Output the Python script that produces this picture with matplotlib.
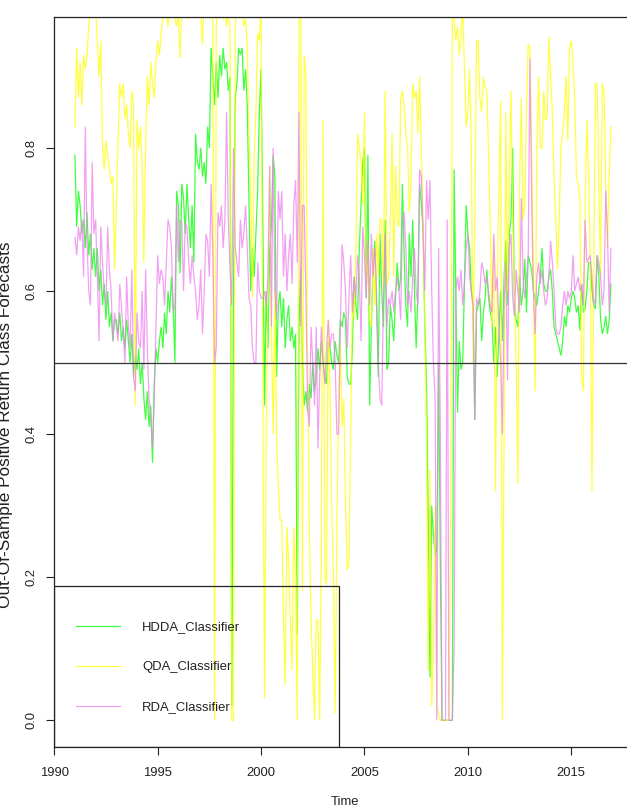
import numpy as np
import matplotlib
matplotlib.use("Agg")
import matplotlib.pyplot as plt
from matplotlib.patches import Rectangle
from matplotlib.lines import Line2D

plt.rcParams['font.family'] = ['Liberation Sans', 'DejaVu Sans']

start_year = 1991
freq = 12

hdda = [
    0.79, 0.69, 0.74, 0.72, 0.68, 0.70, 0.66, 0.71, 0.65, 0.68, 0.63, 0.66,   # 1991
    0.62, 0.66, 0.60, 0.63, 0.58, 0.61, 0.56, 0.60, 0.55, 0.57, 0.53, 0.56,   # 1992
    0.56, 0.54, 0.57, 0.53, 0.55, 0.52, 0.56, 0.53, 0.50, 0.54, 0.48, 0.51,   # 1993
    0.49, 0.52, 0.47, 0.50, 0.45, 0.42, 0.46, 0.41, 0.44, 0.36, 0.47, 0.52,   # 1994
    0.50, 0.53, 0.55, 0.52, 0.57, 0.54, 0.60, 0.57, 0.62, 0.58, 0.50, 0.74,   # 1995
    0.72, 0.625, 0.75, 0.73, 0.68, 0.75, 0.70, 0.66, 0.72, 0.64, 0.82, 0.78,  # 1996
    0.77, 0.80, 0.76, 0.78, 0.75, 0.83, 0.80, 0.94, 0.90, 0.86, 0.92, 0.87,   # 1997
    0.93, 0.90, 0.94, 0.91, 0.92, 0.88, 0.90, 0.02, 0.60, 0.87, 0.89, 0.94,   # 1998
    0.93, 0.94, 0.88, 0.91, 0.86, 0.72, 0.60, 0.66, 0.62, 0.68, 0.74, 0.85,   # 1999
    0.91, 0.70, 0.44, 0.60, 0.52, 0.66, 0.69, 0.79, 0.76, 0.48, 0.58, 0.60,   # 2000
    0.55, 0.59, 0.52, 0.56, 0.58, 0.53, 0.55, 0.52, 0.54, 0.12, 0.55, 0.63,   # 2001
    0.50, 0.44, 0.46, 0.43, 0.47, 0.45, 0.50, 0.46, 0.48, 0.52, 0.49, 0.53,   # 2002
    0.50, 0.48, 0.47, 0.53, 0.52, 0.50, 0.49, 0.53, 0.51, 0.50, 0.56, 0.55,   # 2003
    0.57, 0.56, 0.48, 0.47, 0.47, 0.52, 0.62, 0.58, 0.56, 0.66, 0.72, 0.78,   # 2004
    0.80, 0.59, 0.79, 0.44, 0.55, 0.64, 0.67, 0.58, 0.48, 0.68, 0.60, 0.55,   # 2005
    0.70, 0.49, 0.50, 0.58, 0.56, 0.53, 0.59, 0.64, 0.60, 0.62, 0.75, 0.65,   # 2006
    0.58, 0.55, 0.68, 0.62, 0.70, 0.60, 0.52, 0.60, 0.75, 0.72, 0.69, 0.55,   # 2007
    0.47, 0.28, 0.06, 0.30, 0.26, 0.23, 0.24, 0.50, 0.22, 0.00, 0.00, 0.00,   # 2008
    0.00, 0.00, 0.00, 0.00, 0.77, 0.60, 0.43, 0.53, 0.49, 0.50, 0.61, 0.72,   # 2009
    0.68, 0.66, 0.60, 0.58, 0.42, 0.57, 0.58, 0.59, 0.53, 0.57, 0.59, 0.63,   # 2010
    0.59, 0.57, 0.56, 0.50, 0.55, 0.48, 0.54, 0.60, 0.53, 0.62, 0.67, 0.58,   # 2011
    0.68, 0.70, 0.80, 0.58, 0.56, 0.55, 0.62, 0.58, 0.60, 0.645, 0.57, 0.65,  # 2012
    0.64, 0.63, 0.60, 0.59, 0.58, 0.60, 0.62, 0.66, 0.61, 0.60, 0.60, 0.62,   # 2013
    0.63, 0.60, 0.55, 0.54, 0.53, 0.52, 0.51, 0.53, 0.565, 0.55, 0.58, 0.57,  # 2014
    0.59, 0.60, 0.59, 0.57, 0.58, 0.545, 0.61, 0.57, 0.575, 0.60, 0.64, 0.64, # 2015
    0.60, 0.58, 0.575, 0.65, 0.62, 0.56, 0.54, 0.55, 0.565, 0.54, 0.56, 0.61, # 2016
]

qda = [
    0.83, 0.94, 0.87, 0.92, 0.86, 0.93, 0.91, 0.93, 0.97, 0.99, 1.00, 1.00,   # 1991
    1.00, 0.95, 0.90, 0.95, 0.80, 0.77, 0.81, 0.79, 0.77, 0.75, 0.76, 0.63,   # 1992
    0.72, 0.81, 0.89, 0.87, 0.89, 0.84, 0.86, 0.82, 0.80, 0.88, 0.86, 0.44,   # 1993
    0.84, 0.80, 0.83, 0.77, 0.64, 0.80, 0.90, 0.86, 0.92, 0.89, 0.87, 0.92,   # 1994
    0.95, 0.93, 0.96, 0.98, 1.00, 0.99, 0.97, 1.00, 1.00, 0.99, 0.98, 0.97,   # 1995
    0.99, 0.925, 1.00, 0.99, 1.00, 1.00, 0.98, 1.00, 1.00, 1.00, 0.99, 1.00,  # 1996
    1.00, 0.99, 0.945, 1.00, 1.00, 0.99, 1.00, 1.00, 0.98, 0.00, 0.97, 1.00,  # 1997
    0.99, 1.00, 0.98, 1.00, 0.97, 1.00, 0.96, 0.00, 0.00, 0.97, 1.00, 0.99,   # 1998
    0.99, 1.00, 0.97, 0.98, 0.94, 0.82, 0.74, 0.59, 0.79, 0.85, 0.96, 0.95,   # 1999
    1.00, 0.44, 0.03, 0.40, 0.60, 0.775, 0.55, 0.40, 0.60, 0.39, 0.33, 0.28,  # 2000
    0.28, 0.14, 0.05, 0.27, 0.22, 0.14, 0.07, 0.27, 0.20, 0.00, 1.00, 0.98,   # 2001
    0.18, 0.93, 0.90, 0.50, 0.27, 0.14, 0.07, 0.00, 0.14, 0.14, 0.00, 0.25,   # 2002
    0.84, 0.20, 0.19, 0.56, 0.46, 0.30, 0.20, 0.01, 0.27, 0.45, 0.53, 0.41,   # 2003
    0.45, 0.30, 0.21, 0.22, 0.40, 0.60, 0.56, 0.65, 0.82, 0.80, 0.78, 0.72,   # 2004
    0.85, 0.60, 0.66, 0.56, 0.55, 0.66, 0.58, 0.68, 0.62, 0.70, 0.70, 0.60,   # 2005
    0.88, 0.61, 0.62, 0.70, 0.82, 0.62, 0.775, 0.70, 0.69, 0.87, 0.88, 0.86,  # 2006
    0.82, 0.80, 0.71, 0.75, 0.89, 0.87, 0.88, 0.82, 0.90, 0.80, 0.70, 0.55,   # 2007
    0.40, 0.07, 0.35, 0.02, 0.10, 0.30, 0.02, 0.01, 0.00, 0.00, 0.00, 0.00,   # 2008
    0.00, 0.00, 0.30, 1.00, 0.98, 0.95, 0.97, 0.93, 0.96, 1.00, 0.91, 0.83,   # 2009
    0.85, 0.91, 0.80, 0.50, 0.70, 0.95, 0.95, 0.87, 0.85, 0.90, 0.885, 0.88,  # 2010
    0.79, 0.69, 0.55, 0.67, 0.32, 0.60, 0.75, 0.866, 0.00, 0.40, 0.85, 0.60,  # 2011
    0.75, 0.88, 0.70, 0.60, 0.50, 0.33, 0.75, 0.87, 0.70, 0.72, 0.85, 0.945,  # 2012
    0.94, 0.80, 0.62, 0.46, 0.80, 0.90, 0.80, 0.80, 0.88, 0.84, 0.84, 0.955,  # 2013
    0.90, 0.85, 0.76, 0.70, 0.63, 0.70, 0.80, 0.82, 0.85, 0.90, 0.81, 0.94,   # 2014
    0.95, 0.92, 0.87, 0.76, 0.75, 0.73, 0.48, 0.46, 0.72, 0.84, 0.77, 0.65,   # 2015
    0.32, 0.60, 0.89, 0.89, 0.75, 0.62, 0.89, 0.88, 0.75, 0.66, 0.76, 0.83,   # 2016
]

rda = [
    0.675, 0.65, 0.69, 0.67, 0.70, 0.62, 0.83, 0.67, 0.60, 0.58, 0.78, 0.68,  # 1991
    0.70, 0.62, 0.53, 0.69, 0.64, 0.60, 0.58, 0.69, 0.63, 0.60, 0.53, 0.57,   # 1992
    0.55, 0.53, 0.61, 0.58, 0.54, 0.50, 0.62, 0.55, 0.52, 0.63, 0.48, 0.46,   # 1993
    0.57, 0.53, 0.52, 0.60, 0.49, 0.63, 0.52, 0.45, 0.42, 0.38, 0.45, 0.55,   # 1994
    0.65, 0.61, 0.63, 0.62, 0.58, 0.64, 0.70, 0.69, 0.66, 0.57, 0.58, 0.72,   # 1995
    0.64, 0.70, 0.695, 0.60, 0.695, 0.69, 0.64, 0.61, 0.65, 0.62, 0.60, 0.56, # 1996
    0.58, 0.63, 0.54, 0.60, 0.68, 0.67, 0.62, 0.75, 0.65, 0.50, 0.52, 0.71,   # 1997
    0.69, 0.72, 0.66, 0.70, 0.85, 0.70, 0.63, 0.58, 0.80, 0.66, 0.64, 0.62,   # 1998
    0.70, 0.66, 0.68, 0.72, 0.66, 0.59, 0.58, 0.52, 0.50, 0.50, 0.64, 0.60,   # 1999
    0.59, 0.59, 0.60, 0.58, 0.62, 0.775, 0.55, 0.80, 0.60, 0.56, 0.74, 0.70,  # 2000
    0.74, 0.62, 0.68, 0.60, 0.65, 0.68, 0.61, 0.72, 0.755, 0.64, 0.85, 0.55,  # 2001
    0.72, 0.72, 0.60, 0.44, 0.41, 0.55, 0.50, 0.44, 0.55, 0.38, 0.48, 0.55,   # 2002
    0.50, 0.47, 0.52, 0.56, 0.52, 0.54, 0.54, 0.50, 0.40, 0.40, 0.55, 0.665,  # 2003
    0.64, 0.60, 0.52, 0.59, 0.65, 0.57, 0.62, 0.59, 0.65, 0.62, 0.53, 0.69,   # 2004
    0.65, 0.59, 0.67, 0.58, 0.68, 0.62, 0.66, 0.60, 0.50, 0.45, 0.44, 0.59,   # 2005
    0.68, 0.55, 0.59, 0.58, 0.60, 0.57, 0.60, 0.62, 0.60, 0.56, 0.70, 0.71,   # 2006
    0.66, 0.58, 0.60, 0.57, 0.62, 0.66, 0.60, 0.58, 0.77, 0.76, 0.68, 0.60,   # 2007
    0.755, 0.70, 0.755, 0.60, 0.50, 0.45, 0.00, 0.66, 0.40, 0.00, 0.00, 0.00, # 2008
    0.70, 0.00, 0.00, 0.00, 0.10, 0.60, 0.62, 0.60, 0.63, 0.58, 0.61, 0.66,   # 2009
    0.68, 0.62, 0.60, 0.58, 0.42, 0.59, 0.58, 0.60, 0.64, 0.63, 0.61, 0.62,   # 2010
    0.60, 0.58, 0.57, 0.68, 0.60, 0.62, 0.55, 0.50, 0.40, 0.58, 0.64, 0.475,  # 2011
    0.66, 0.68, 0.59, 0.565, 0.63, 0.60, 0.57, 0.73, 0.62, 0.59, 0.62, 0.65,  # 2012
    0.925, 0.73, 0.60, 0.54, 0.62, 0.64, 0.61, 0.63, 0.60, 0.58, 0.59, 0.62,  # 2013
    0.67, 0.64, 0.60, 0.55, 0.54, 0.54, 0.55, 0.58, 0.60, 0.58, 0.60, 0.59,   # 2014
    0.60, 0.65, 0.60, 0.61, 0.62, 0.60, 0.61, 0.58, 0.70, 0.64, 0.645, 0.65,  # 2015
    0.62, 0.58, 0.59, 0.65, 0.64, 0.62, 0.58, 0.60, 0.74, 0.68, 0.57, 0.66,   # 2016
]

series_names = ["HDDA_Classifier", "QDA_Classifier", "RDA_Classifier"]
series_colors = ["#00FF00", "#FFFF00", "#EE82EE"]
x_ticks = [1990, 1995, 2000, 2005, 2010, 2015]
y_ticks = [0.0, 0.2, 0.4, 0.6, 0.8]
threshold = 0.5

t = start_year + np.arange(len(hdda)) / freq

W, H = 627, 810
fig = plt.figure(figsize=(W / 100, H / 100), dpi=100)
ax_left, ax_right, ax_top, ax_bottom = 53.5, 632.3, 17, 747
ax = fig.add_axes([ax_left / W, 1 - ax_bottom / H, (ax_right - ax_left) / W, (ax_bottom - ax_top) / H])

for vals, col in zip([hdda, qda, rda], series_colors):
    ax.plot(t, vals, color=col, lw=0.9, alpha=0.75, solid_joinstyle='miter')

ax.axhline(threshold, color='#333333', lw=0.9)

ax.set_xlim(1989.963, 2017.95)
ax.set_ylim(-0.0373, 0.9831)
ax.set_xticks(x_ticks)
ax.set_xticklabels([str(v) for v in x_ticks])
ax.set_yticks(y_ticks)
ax.set_yticklabels([f"{v:.1f}" for v in y_ticks])
for s in ax.spines.values():
    s.set_linewidth(0.9)
    s.set_color('#222222')
ax.tick_params(axis='both', direction='out', length=5.8, width=0.8, color='#222222',
               labelsize=9.4, labelcolor='#222222')
ax.tick_params(axis='x', pad=8.5)
ax.tick_params(axis='y', pad=6.0, labelrotation=90)
for lbl in ax.get_yticklabels():
    lbl.set_va('center')

# legend box (R style, transparent)
leg_w = (339.3 - ax_left) / (ax_right - ax_left)
leg_h = (ax_bottom - 586) / (ax_bottom - ax_top)
ax.add_patch(Rectangle((0, 0), leg_w, leg_h, transform=ax.transAxes, fill=False,
                       edgecolor='#222222', lw=0.9, zorder=5))
handles = [Line2D([0], [0], color=c, lw=0.9, alpha=0.75) for c in series_colors]
leg = fig.legend(handles, series_names, loc='upper left',
                 bbox_to_anchor=(76 / W, 1 - 621 / H), frameon=False,
                 fontsize=9.4, handlelength=44 / 13.05, handletextpad=22 / 13.05,
                 labelspacing=2.15, borderpad=0, borderaxespad=0)
for txt in leg.get_texts():
    txt.set_color('#222222')

fig.text(345 / W, 1 - 802 / H, "Time", ha='center', va='center', fontsize=9.4, color='#222222')
fig.text(6 / W, 1 - 425 / H, "Out-Of-Sample Positive Return Class Forecasts", rotation=90,
         ha='center', va='center', fontsize=12.4, color='#222222')

fig.savefig("out.png", dpi=100)
